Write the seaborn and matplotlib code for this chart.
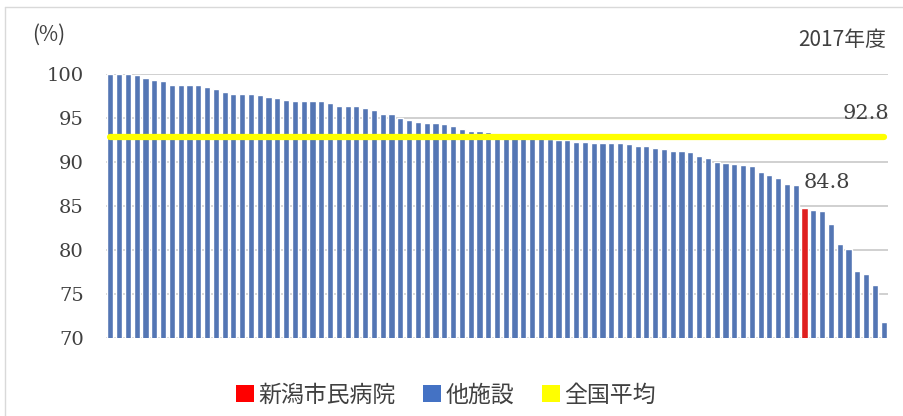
import pandas as pd
import seaborn as sns
import matplotlib.pyplot as plt
from matplotlib.patches import Patch
from matplotlib.lines import Line2D

# rates per facility, sorted (2017)
rates = [100, 100, 100, 99.85, 99.6, 99.3, 99.15, 98.8, 98.75, 98.75, 98.75, 98.5, 98.3, 97.9, 97.7,
         97.7, 97.7, 97.6, 97.4, 97.3, 97.1, 96.95, 96.9, 96.9, 96.9, 96.65, 96.4, 96.4, 96.35, 96.1,
         95.95, 95.45, 95.4, 95.0, 94.8, 94.6, 94.45, 94.4, 94.3, 94.05, 93.7, 93.55, 93.5, 93.4, 93.1,
         92.95, 92.9, 92.85, 92.75, 92.7, 92.6, 92.5, 92.45, 92.3, 92.27, 92.2, 92.2, 92.2, 92.15,
         92.05, 91.8, 91.78, 91.55, 91.48, 91.25, 91.25, 91.14, 90.7, 90.45, 90.0, 89.9, 89.77, 89.66, 89.6,
         88.9, 88.56, 88.2, 87.5, 87.42, 84.8, 84.55, 84.43, 82.95, 80.7, 80.07, 77.65, 77.3, 75.98, 71.85]
own_idx = 79          # 新潟市民病院
national_avg = 92.8
yticks = [70, 75, 80, 85, 90, 95, 100]
labels = ['新潟市民病院', '他施設', '全国平均']
colors = ['#FF0000', '#4472C4', '#FFFF00']

df = pd.DataFrame({'facility': range(len(rates)), 'rate': rates})
df['group'] = [labels[0] if i == own_idx else labels[1] for i in df['facility']]

sns.set_style('white')
plt.rcParams['font.family'] = ['Noto Sans CJK JP', 'DejaVu Sans']
num_font = 'DejaVu Serif'
txt_col = '#404040'

fig = plt.figure(figsize=(9.04, 4.16), dpi=100)
ax = fig.add_axes([106 / 904, 1 - 338 / 416, 782 / 904, 264 / 416])

sns.barplot(data=df, x='facility', y='rate', hue='group',
            palette={labels[0]: colors[0], labels[1]: colors[1]},
            dodge=False, width=0.7, legend=False, ax=ax, zorder=2)

# national average line across all facilities
sns.lineplot(x=df['facility'], y=[national_avg] * len(df), color=colors[2],
             linewidth=4.5, ax=ax, zorder=3, solid_capstyle='round')

ax.set_ylim(70, 100)
ax.set_xlim(-0.5, len(rates) - 0.5)
ax.set_yticks(yticks)
ax.set_yticklabels([str(t) for t in yticks], fontfamily=num_font, fontsize=14, color=txt_col)
ax.set_xticks([])
ax.set_xlabel('')
ax.set_ylabel('')
ax.tick_params(axis='y', length=0, pad=16)
for s in ax.spines.values():
    s.set_visible(False)
ax.yaxis.grid(True, color='#d0d0d0', linewidth=1.4, zorder=0)
ax.set_axisbelow(True)

ax.annotate(f'{rates[own_idx]}', (own_idx, rates[own_idx]), xytext=(16, 18),
            textcoords='offset points', ha='center', va='center',
            fontfamily=num_font, fontsize=15, color=txt_col)
ax.annotate(f'{national_avg}', (len(rates) - 1, national_avg), xytext=(-13, 17),
            textcoords='offset points', ha='center', va='center',
            fontfamily=num_font, fontsize=15, color=txt_col)

fig.text(32 / 904, 1 - 35 / 416, '(%)', fontsize=15, color=txt_col, va='center', ha='left')
fig.text(886 / 904, 1 - 40 / 416, '2017年度', fontsize=15, color=txt_col, va='center', ha='right')

handles = [Patch(facecolor=c, edgecolor='none') for c in colors]
fig.legend(handles, labels, loc='center', bbox_to_anchor=(446 / 904, 1 - 395 / 416),
           ncol=3, frameon=False, fontsize=16.5, handlelength=0.78, handleheight=0.78,
           handletextpad=0.2, columnspacing=1.2, labelcolor=txt_col)

# outer chart frame
fig.add_artist(Line2D([5.5 / 904, 5.5 / 904], [0, 1 - 7 / 416], color='#d9d9d9', linewidth=1))
fig.add_artist(Line2D([5.5 / 904, 1], [1 - 7 / 416, 1 - 7 / 416], color='#d9d9d9', linewidth=1))

fig.savefig('out.png', dpi=100)
